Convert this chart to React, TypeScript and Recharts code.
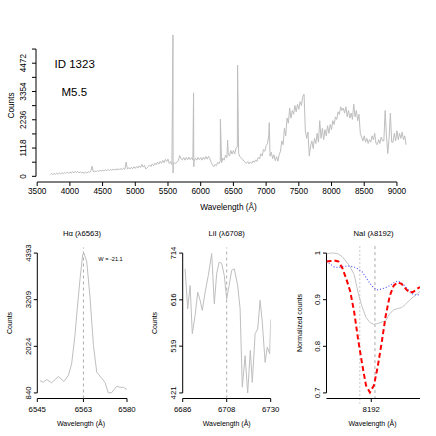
import { LineChart, Line, XAxis, YAxis, ReferenceLine } from 'recharts';

// full spectrum: counts on a 20 Å grid starting at 3700 Å
const specStart = 3700;
const specStep = 20;
const specFlux = [
  60, 110, 70, 120, 80, 125, 85, 135, 95, 145,
  105, 155, 110, 165, 120, 175, 125, 185, 135, 195,
  145, 190, 135, 185, 125, 175, 115, 170, 130, 190,
  150, 205, 400, 170, 215, 175, 230, 190, 245, 200,
  255, 210, 265, 220, 275, 225, 280, 235, 290, 240,
  295, 245, 305, 250, 315, 260, 325, 275, 560, 285,
  345, 290, 360, 300, 375, 315, 395, 325, 415, 345,
  470, 365, 435, 290, 345, 385, 450, 390, 490, 425,
  520, 455, 560, 485, 590, 515, 630, 545, 670, 585,
  680, 505, 580, 465, 520, 525, 520, 565, 640, 820,
  690, 650, 740, 640, 750, 650, 760, 660, 740, 640,
  600, 720, 640, 750, 660, 740, 640, 760, 670, 780,
  680, 790, 700, 560, 450, 380, 470, 420, 560, 500,
  620, 540, 720, 640, 840, 740, 920, 800, 1020, 880,
  1020, 880, 1120, 1160, 900, 780, 720, 680, 600, 560,
  520, 580, 490, 570, 510, 610, 550, 650, 590, 750,
  690, 890, 810, 1060, 990, 1210, 1290, 1600, 800, 950,
  700, 850, 620, 780, 600, 850, 1000, 1400, 1250, 1900,
  1600, 2300, 2100, 2700, 2300, 2600, 2450, 2800, 2550, 2850,
  2650, 2950, 2800, 3150, 3250, 1800, 1500, 1750, 800, 1200,
  1400, 1100, 1500, 1300, 1700, 1350, 2200, 1500, 1900, 1450,
  1850, 1600, 2000, 1700, 2050, 1850, 2200, 2050, 2350, 2250,
  2550, 2450, 2750, 2600, 2700, 2500, 2750, 2350, 2600, 2300,
  2500, 2250, 2850, 2350, 2600, 2200, 2450, 1700, 1550, 1400,
  1600, 1350, 1500, 1300, 1450, 1350, 1600, 1450, 1700, 1300,
  1250, 1450, 1300, 1550, 1400, 1400, 2600, 1600, 900, 1500,
  2500, 1350, 1350, 1700, 1400, 1800, 1450, 1700, 1500, 1750,
  1450, 1600, 1250,
];
// narrow emission lines (sky + Balmer), [wavelength, counts]
const specLines: [number, number][] = [
  [5576, 5590], [5578, 130], [5891, 3300], [5894, 380],
  [6301, 2260], [6412, 1430], [6564, 4400], [7048, 2120],
];
const specTicksX = [3500, 4000, 4500, 5000, 5500, 6000, 6500, 7000, 7500, 8000, 8500, 9000];
const specTicksY = [0, 559, 1118, 1677, 2236, 2795, 3354, 3913, 4472, 5031];
const specLabelsY = [0, 1118, 2236, 3354, 4472];

// H alpha
const haWave = [6546.0, 6547.3, 6548.7, 6550.6, 6553.2, 6555.4, 6557.1, 6558.4, 6559.7, 6560.6, 6561.7, 6562.7, 6563.2,
  6564.3, 6565.6, 6566.9, 6568.2, 6570.1, 6571.4, 6572.7, 6574.0, 6576.0, 6577.3, 6578.6, 6580.0];
const haFlux = [1154, 1111, 1180, 1096, 1257, 1129, 1282, 1581, 2305, 2987, 3754, 4350, 4393,
  4178, 3243, 2049, 1367, 1213, 1111, 840, 845, 1009, 983, 983, 924];
const haTicksX = [6545, 6563, 6580];
const haTicksY = [840, 2024, 3209, 4393];

// Li I
const liWave = [6687.2, 6688.5, 6689.7, 6690.8, 6692.2, 6693.5, 6694.7, 6695.8, 6697.2, 6698.8, 6700.5, 6701.8,
  6703.0, 6704.2, 6705.5, 6706.8, 6708.0, 6709.2, 6710.5, 6711.8, 6713.5, 6714.7, 6715.8, 6717.2,
  6718.5, 6719.8, 6720.8, 6722.2, 6723.5, 6724.7, 6725.8, 6727.2, 6728.3, 6729.5, 6730.0];
const liFlux = [681, 597, 646, 545, 583, 632, 615, 594, 632, 667, 713, 608,
  671, 695, 692, 667, 618, 646, 678, 681, 646, 597, 433, 499,
  421, 510, 443, 545, 555, 615, 569, 485, 517, 503, 575];
const liTicksX = [6686, 6708, 6730];
const liTicksY = [421, 519, 616, 714];

// Na I doublet, normalized: observed (gray), dwarf template (red), giant template (blue)
const naWave = [8158, 8161, 8164, 8167, 8170, 8173, 8176, 8179, 8182, 8185, 8188, 8191, 8194,
  8197, 8200, 8203, 8206, 8209, 8212, 8215, 8218, 8221, 8224, 8227, 8229];
const naObs = [0.998, 1.0, 1.0, 0.998, 0.992, 0.982, 0.97, 0.954, 0.915, 0.885, 0.862, 0.851, 0.847,
  0.849, 0.852, 0.855, 0.87, 0.878, 0.881, 0.883, 0.89, 0.899, 0.906, 0.913, 0.918];
const naDwarf = [0.982, 0.983, 0.984, 0.982, 0.968, 0.945, 0.918, 0.874, 0.815, 0.763, 0.716, 0.701, 0.716,
  0.758, 0.81, 0.866, 0.908, 0.93, 0.937, 0.934, 0.924, 0.915, 0.917, 0.924, 0.927];
const naGiant = [0.983, 0.976, 0.97, 0.969, 0.971, 0.972, 0.972, 0.97, 0.966, 0.96, 0.948, 0.935, 0.925,
  0.921, 0.923, 0.926, 0.93, 0.936, 0.94, 0.936, 0.928, 0.918, 0.911, 0.91, 0.912];
const naTicksX = [8192];
const naTicksY = [0.7, 0.8, 0.9, 1];
const naLines = [8183.3, 8194.8];

const specData = [
  ...specFlux.map((flux, i) => ({ wave: specStart + i * specStep, flux })),
  ...specLines.map(([wave, flux]) => ({ wave, flux })),
].sort((a, b) => a.wave - b.wave);
const haData = haWave.map((wave, i) => ({ wave, flux: haFlux[i] }));
const liData = liWave.map((wave, i) => ({ wave, flux: liFlux[i] }));
const naData = naWave.map((wave, i) => ({ wave, obs: naObs[i], dwarf: naDwarf[i], giant: naGiant[i] }));

const FONT = '"Liberation Sans", Arial, Helvetica, sans-serif';
const GRAY = '#bebebe';

// y tick labels drawn parallel to the axis, like R's default
const RotTick = (props: any) => {
  const { x, y, payload, fontSize, show } = props;
  if (show && !show.includes(payload.value)) return <g />;
  return (
    <text
      transform={`translate(${x},${y}) rotate(-90)`}
      textAnchor="middle"
      dy="0.35em"
      fontSize={fontSize}
      fill="#000"
      fontFamily={FONT}
    >
      {payload.value}
    </text>
  );
};

const abs = { position: 'absolute' as const, left: 0, top: 0 };

interface PanelProps {
  data: any[];
  plot: [number, number, number, number]; // left, top, right, bottom in page px
  xDomain: [number, number];
  yDomain: [number, number];
  xTicks: number[];
  yTicks: number[];
  xAxisFull?: boolean;
  children?: React.ReactNode;
}

function Panel({ data, plot, xDomain, yDomain, xTicks, yTicks, xAxisFull, children }: PanelProps) {
  const [l, t, r, b] = plot;
  return (
    <div style={abs}>
      <LineChart
        width={436}
        height={436}
        data={data}
        margin={{ left: l - 30, top: t, right: 436 - r, bottom: 436 - b - 20 }}
      >
        <XAxis
          type="number"
          dataKey="wave"
          domain={xDomain}
          allowDataOverflow
          ticks={xTicks}
          interval={0}
          axisLine={!!xAxisFull}
          stroke="#000"
          tickSize={3.5}
          tickMargin={4}
          tick={{ fontSize: 7.8, fill: '#000', fontFamily: FONT }}
          height={20}
        />
        <YAxis
          type="number"
          domain={yDomain}
          allowDataOverflow
          ticks={yTicks}
          interval={0}
          axisLine={false}
          stroke="#000"
          tickSize={3.5}
          tickMargin={6}
          tick={<RotTick fontSize={7.8} />}
          width={30}
        />
        {!xAxisFull && (
          <ReferenceLine
            segment={[{ x: xTicks[0], y: yDomain[0] }, { x: xTicks[xTicks.length - 1], y: yDomain[0] }]}
            stroke="#000"
            ifOverflow="visible"
          />
        )}
        <ReferenceLine
          segment={[{ x: xDomain[0], y: yTicks[0] }, { x: xDomain[0], y: yTicks[yTicks.length - 1] }]}
          stroke="#000"
          ifOverflow="visible"
        />
        {children}
      </LineChart>
    </div>
  );
}

export default function App() {
  return (
    <div style={{ ...abs, width: 436, height: 436, background: '#fff', fontFamily: FONT }}>
      {/* full spectrum */}
      <div style={abs}>
        <LineChart width={436} height={436} data={specData} margin={{ top: 29, right: 15, left: 0, bottom: 224 }}>
          <XAxis
            type="number"
            dataKey="wave"
            domain={[3482, 9368]}
            allowDataOverflow
            ticks={specTicksX}
            interval={0}
            axisLine={false}
            stroke="#000"
            tickSize={4}
            tickMargin={2.5}
            tick={{ fontSize: 8.25, fill: '#000', fontFamily: FONT }}
            height={30}
          />
          <YAxis
            type="number"
            domain={[-224, 5824]}
            allowDataOverflow
            ticks={specTicksY}
            interval={0}
            axisLine={false}
            stroke="#000"
            tickSize={4}
            tickMargin={9}
            tick={<RotTick fontSize={8.25} show={specLabelsY} />}
            width={36}
          />
          <ReferenceLine segment={[{ x: 3500, y: -224 }, { x: 9000, y: -224 }]} stroke="#000" ifOverflow="visible" />
          <ReferenceLine segment={[{ x: 3482, y: 0 }, { x: 3482, y: 5031 }]} stroke="#000" ifOverflow="visible" />
          <Line dataKey="flux" stroke={GRAY} strokeWidth={1} dot={false} isAnimationActive={false} />
        </LineChart>
      </div>

      <Panel data={haData} plot={[37.3, 247.5, 127, 398.5]} xDomain={[6545, 6580]} yDomain={[698, 4535]}
        xTicks={haTicksX} yTicks={haTicksY}>
        <ReferenceLine x={6563} stroke="#aaa" strokeDasharray="3 3" />
        <Line dataKey="flux" stroke={GRAY} strokeWidth={1} dot={false} isAnimationActive={false} />
      </Panel>

      <Panel data={liData} plot={[182.7, 247.5, 270.7, 398.5]} xDomain={[6686, 6730]} yDomain={[409.3, 725.7]}
        xTicks={liTicksX} yTicks={liTicksY}>
        <ReferenceLine x={6708} stroke="#aaa" strokeDasharray="3 3" />
        <Line dataKey="flux" stroke={GRAY} strokeWidth={1} dot={false} isAnimationActive={false} />
      </Panel>

      <Panel data={naData} plot={[326.5, 247.5, 420, 398.5]} xDomain={[8158, 8229]} yDomain={[0.688, 1.012]}
        xTicks={naTicksX} yTicks={naTicksY} xAxisFull>
        <ReferenceLine segment={[{ x: naLines[0], y: 1.015 }, { x: naLines[0], y: 0.677 }]}
          stroke="#c8c8c8" strokeDasharray="2 2" ifOverflow="visible" />
        <ReferenceLine segment={[{ x: naLines[1], y: 1.015 }, { x: naLines[1], y: 0.68 }]}
          stroke="#aaa" strokeDasharray="3 3" ifOverflow="visible" />
        <Line dataKey="obs" stroke="#c4c4c4" strokeWidth={1} dot={false} isAnimationActive={false} />
        <Line dataKey="giant" stroke="#5a5aff" strokeWidth={1.2} strokeDasharray="1 2" dot={false} isAnimationActive={false} />
        <Line dataKey="dwarf" stroke="#ff0000" strokeWidth={2} strokeDasharray="5 3" dot={false} isAnimationActive={false} />
      </Panel>

      {/* titles and annotations */}
      <svg width={436} height={436} style={{ ...abs, pointerEvents: 'none' }} fontFamily={FONT} fill="#000">
        <text x={54.5} y={67.5} fontSize={11.5}>ID 1323</text>
        <text x={61.5} y={95.8} fontSize={11.5}>M5.5</text>
        <text transform="translate(11,105.5) rotate(-90)" textAnchor="middle" dy="0.35em" fontSize={8.25}>Counts</text>
        <text x={228.5} y={207} textAnchor="middle" dy="0.35em" fontSize={8.25}>Wavelength (Å)</text>

        <text x={82} y={233.7} textAnchor="middle" dy="0.35em" fontSize={7.7}>Hα (λ6563)</text>
        <text x={226.7} y={233.7} textAnchor="middle" dy="0.35em" fontSize={7.7}>LiI (λ6708)</text>
        <text x={373.5} y={233.7} textAnchor="middle" dy="0.35em" fontSize={7.7}>NaI (λ8192)</text>

        <text x={98.3} y={259.3} dy="0.35em" fontSize={5.6}>W = -21.1</text>

        <text transform="translate(10,323) rotate(-90)" textAnchor="middle" dy="0.35em" fontSize={7}>Counts</text>
        <text transform="translate(155,323) rotate(-90)" textAnchor="middle" dy="0.35em" fontSize={7}>Counts</text>
        <text transform="translate(300,323) rotate(-90)" textAnchor="middle" dy="0.35em" fontSize={7}>Normalized counts</text>

        <text x={81} y={424} textAnchor="middle" dy="0.35em" fontSize={7}>Wavelength (Å)</text>
        <text x={226.7} y={424} textAnchor="middle" dy="0.35em" fontSize={7}>Wavelength (Å)</text>
        <text x={372.5} y={424} textAnchor="middle" dy="0.35em" fontSize={7}>Wavelength (Å)</text>
      </svg>
    </div>
  );
}
